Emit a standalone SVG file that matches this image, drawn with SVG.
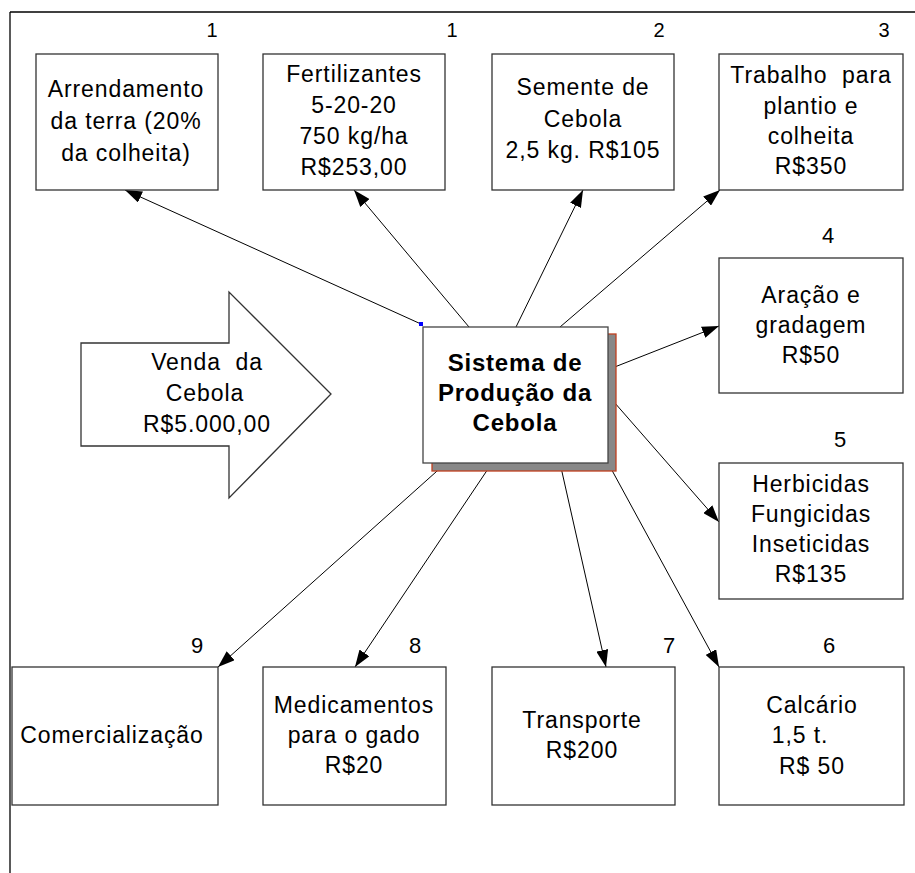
<svg xmlns="http://www.w3.org/2000/svg" width="915" height="873" viewBox="0 0 915 873">
<style>
.box{fill:#fff;stroke:#333;stroke-width:1.3}
.t{font-family:"Liberation Sans",Arial,sans-serif;font-size:23px;letter-spacing:0.9px;fill:#000;text-anchor:middle}
.n{font-family:"Liberation Sans",Arial,sans-serif;font-size:22px;fill:#000;text-anchor:middle}
.nt{font-size:20px}
.b{font-weight:bold;font-size:24px;letter-spacing:0.8px}
.c{stroke:#000;stroke-width:1;fill:none;marker-end:url(#ah)}
</style>
<defs>
<marker id="ah" markerUnits="userSpaceOnUse" markerWidth="18" markerHeight="12" refX="17" refY="6" orient="auto">
<path d="M0,0 L17,6 L0,12 Z" fill="#000"/>
</marker>
</defs>
<rect width="915" height="873" fill="#fff"/>
<g id="frame" stroke="#000" stroke-width="1.3">
<line x1="10" y1="12" x2="915" y2="12"/>
<line x1="10" y1="12" x2="10" y2="873"/>
</g>
<g id="connectors">
<line class="c" x1="421" y1="324" x2="125" y2="190"/>
<line class="c" x1="469" y1="327" x2="354" y2="190"/>
<line class="c" x1="516" y1="327" x2="583" y2="190"/>
<line class="c" x1="560" y1="327" x2="720" y2="190"/>
<line class="c" x1="607" y1="370" x2="719" y2="326"/>
<line class="c" x1="607" y1="394" x2="719" y2="522"/>
<line class="c" x1="608" y1="463" x2="719" y2="667"/>
<line class="c" x1="560" y1="463" x2="606" y2="667"/>
<line class="c" x1="492" y1="463" x2="355" y2="667"/>
<line class="c" x1="446" y1="463" x2="218" y2="667"/>
</g>
<g id="venda">
<polygon points="81,343 229,343 229,292 331,394 229,498 229,446 81,446" fill="#fff" stroke="#333" stroke-width="1.3"/>
<text class="t" x="207" y="370">Venda&#160; da</text>
<text class="t" x="205" y="401">Cebola</text>
<text class="t" x="207" y="432">R$5.000,00</text>
</g>
<g id="centro">
<rect x="432" y="334" width="184" height="137" fill="#888" stroke="#c0401f" stroke-width="1.3"/>
<rect x="423" y="327" width="185" height="136" fill="#fff" stroke="#444" stroke-width="1.3"/>
<rect x="419" y="322" width="4" height="4" fill="#00f"/>
<text class="t b" x="515" y="371">Sistema de</text>
<text class="t b" x="515" y="401">Produção da</text>
<text class="t b" x="515" y="431">Cebola</text>
</g>
<g id="n1">
<text class="n nt" x="212" y="37">1</text>
<rect class="box" x="36" y="54" width="182" height="136"/>
<text class="t" x="126" y="97">Arrendamento</text>
<text class="t" x="126" y="129">da terra (20%</text>
<text class="t" x="126" y="161">da colheita)</text>
</g>
<g id="n1b">
<text class="n nt" x="452" y="37">1</text>
<rect class="box" x="263" y="54" width="182" height="136"/>
<text class="t" x="354" y="82">Fertilizantes</text>
<text class="t" x="354" y="113">5-20-20</text>
<text class="t" x="354" y="144">750 kg/ha</text>
<text class="t" x="354" y="175">R$253,00</text>
</g>
<g id="n2">
<text class="n nt" x="659" y="37">2</text>
<rect class="box" x="492" y="54" width="182" height="136"/>
<text class="t" x="583" y="95">Semente de</text>
<text class="t" x="583" y="127">Cebola</text>
<text class="t" x="583" y="158">2,5 kg. R$105</text>
</g>
<g id="n3">
<text class="n nt" x="884" y="37">3</text>
<rect class="box" x="719" y="54" width="184" height="136"/>
<text class="t" x="811" y="83">Trabalho&#160; para</text>
<text class="t" x="811" y="114">plantio e</text>
<text class="t" x="811" y="144">colheita</text>
<text class="t" x="811" y="174">R$350</text>
</g>
<g id="n4">
<text class="n" x="828" y="243">4</text>
<rect class="box" x="719" y="258" width="184" height="135"/>
<text class="t" x="811" y="303">Aração e</text>
<text class="t" x="811" y="333">gradagem</text>
<text class="t" x="811" y="363">R$50</text>
</g>
<g id="n5">
<text class="n" x="840" y="447">5</text>
<rect class="box" x="719" y="463" width="184" height="136"/>
<text class="t" x="811" y="492">Herbicidas</text>
<text class="t" x="811" y="522">Fungicidas</text>
<text class="t" x="811" y="552">Inseticidas</text>
<text class="t" x="811" y="582">R$135</text>
</g>
<g id="n6">
<text class="n" x="829" y="653">6</text>
<rect class="box" x="719" y="667" width="185" height="138"/>
<text class="t" x="812" y="713">Calcário</text>
<text class="t" x="800" y="743">1,5 t.</text>
<text class="t" x="812" y="774">R$ 50</text>
</g>
<g id="n7">
<text class="n" x="669" y="653">7</text>
<rect class="box" x="492" y="667" width="183" height="138"/>
<text class="t" x="582" y="728">Transporte</text>
<text class="t" x="582" y="758">R$200</text>
</g>
<g id="n8">
<text class="n" x="415" y="653">8</text>
<rect class="box" x="263" y="667" width="183" height="138"/>
<text class="t" x="354" y="713">Medicamentos</text>
<text class="t" x="354" y="743">para o gado</text>
<text class="t" x="354" y="773">R$20</text>
</g>
<g id="n9">
<text class="n" x="197" y="653">9</text>
<rect class="box" x="12" y="667" width="206" height="138"/>
<text class="t" x="112" y="743">Comercialização</text>
</g>
</svg>
